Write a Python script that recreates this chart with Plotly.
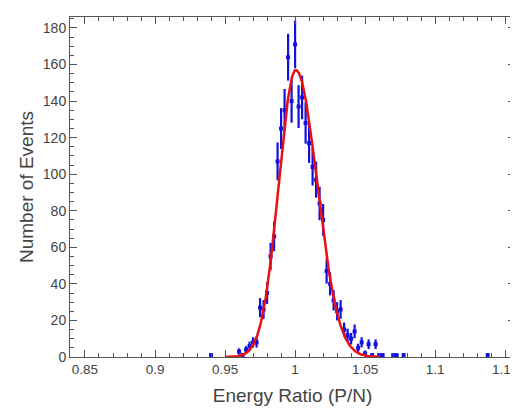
import numpy as np
import plotly.graph_objects as go

# Histogram bin centres (energy ratio P/N) and counts
bin_centers = [0.94, 0.96, 0.9625, 0.965, 0.9675, 0.97, 0.9725, 0.975, 0.9775, 0.98,
               0.9825, 0.985, 0.9875, 0.99, 0.9925, 0.995, 0.9975, 1.0, 1.0025, 1.005,
               1.0075, 1.01, 1.0125, 1.015, 1.0175, 1.02, 1.0225, 1.025, 1.0275, 1.03,
               1.0325, 1.035, 1.0375, 1.04, 1.0425, 1.045, 1.0475, 1.05, 1.0525, 1.055,
               1.0575, 1.06, 1.0625, 1.07, 1.0725, 1.0775, 1.1375]
counts = [1, 3, 1, 4, 6, 8, 8, 27, 26, 35,
          55, 66, 107, 125, 135, 164, 140, 171, 137, 142,
          128, 117, 104, 97, 84, 75, 47, 40, 31, 25,
          26, 15, 12, 10, 14, 5, 8, 2, 7, 1,
          7, 1, 1, 1, 1, 1, 1]

# Fit parameters (asymmetric Gaussian)
fit_amp = 157.0
fit_mean = 1.0005
fit_sigma_left = 0.0121
fit_sigma_right = 0.0152
fit_range = [0.95, 1.06]

x_ticks = [0.85, 0.9, 0.95, 1.0, 1.05, 1.1, 1.15]
x_tick_labels = ["0.85", "0.9", "0.95", "1", "1.05", "1.1", "1.15"]
y_ticks = [0, 20, 40, 60, 80, 100, 120, 140, 160, 180]

errors = [np.sqrt(c) for c in counts]

xf = np.linspace(fit_range[0], fit_range[1], 400)
sig = np.where(xf < fit_mean, fit_sigma_left, fit_sigma_right)
yf = fit_amp * np.exp(-0.5 * ((xf - fit_mean) / sig) ** 2)

fig = go.Figure()
fig.add_trace(go.Scatter(
    x=bin_centers, y=counts, mode="markers",
    marker=dict(color="#1010e0", size=4, symbol="square"),
    error_y=dict(type="data", array=errors, visible=True, color="#1010e0",
                 thickness=2.2, width=0),
    showlegend=False,
))
fig.add_trace(go.Scatter(
    x=xf, y=yf, mode="lines",
    line=dict(color="#e81010", width=2.5),
    showlegend=False,
))

axis_common = dict(
    showline=True, linecolor="#555555", linewidth=1, mirror="ticks",
    ticks="inside", tickcolor="#555555", ticklen=7, tickwidth=1,
    showgrid=False, zeroline=False, automargin=False,
)

# page body has an 8px margin: figure is offset accordingly
fig.update_layout(
    width=518, height=408,
    margin=dict(l=62, r=11, t=9, b=59),
    paper_bgcolor="white", plot_bgcolor="white",
    font=dict(family="Liberation Sans, Arial, sans-serif", color="#444444"),
    xaxis=dict(
        range=[0.8393, 1.157], tickvals=x_ticks, ticktext=x_tick_labels,
        tickfont=dict(family="Liberation Sans, Arial, sans-serif", size=13.5, color="#444444"),
        minor=dict(dtick=0.01, ticks="inside", ticklen=4, tickcolor="#555555"),
        title=dict(text="Energy Ratio (P/N)", font=dict(size=19, color="#444444"), standoff=12),
        **axis_common,
    ),
    yaxis=dict(
        range=[0, 186], tickvals=y_ticks,
        ticksuffix="\u00a0",
        tickfont=dict(family="Liberation Sans, Arial, sans-serif", size=14, color="#444444"),
        minor=dict(dtick=5, ticks="inside", ticklen=4, tickcolor="#555555"),
        title=dict(text="Number of Events", font=dict(size=19, color="#444444"), standoff=4),
        **axis_common,
    ),
)

fig.write_html("out.html")
